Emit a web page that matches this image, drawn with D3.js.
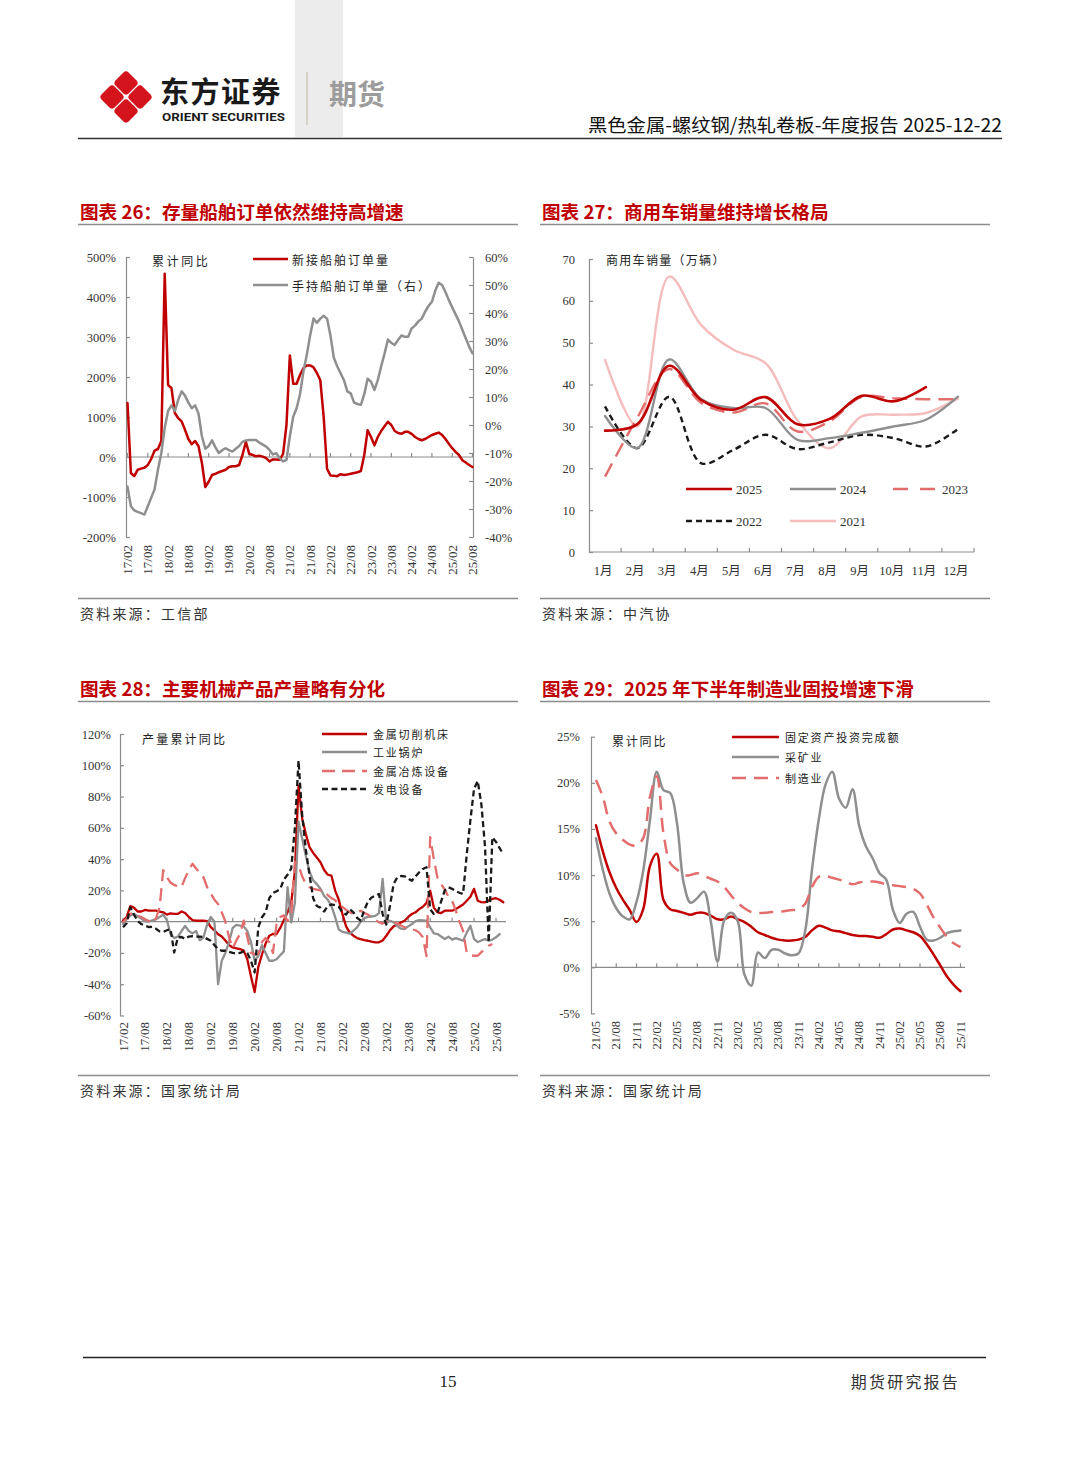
<!DOCTYPE html>
<html><head><meta charset="utf-8">
<script src="https://cdn.jsdelivr.net/npm/d3@7"></script>
<style>body{margin:0;background:#fff;}svg{display:block;}</style>
</head><body>
<svg id="page" width="1080" height="1466"></svg>
<script>
// ===== Chart 26 data: 新接 / 手持 船舶订单量 (monthly from 17/02) =====
const shipTicks = ['17/02','17/08','18/02','18/08','19/02','19/08','20/02','20/08','21/02','21/08','22/02','22/08','23/02','23/08','24/02','24/08','25/02','25/08'];
const shipLeftTicks = [-200,-100,0,100,200,300,400,500];
const shipRightTicks = [-40,-30,-20,-10,0,10,20,30,40,50,60];
const shipNewOrders = [135,-40,-48,-32,-29,-27,-20,-5,16,20,
 40,458,180,172,110,97,89,68,45,32,
 40,27,-15,-75,-62,-45,-42,-38,-35,-32,
 -25,-23,-23,-20,5,38,8,5,2,3,
 1,-3,-11,-6,-6,-7,8,80,254,183,
 183,205,222,229,229,224,210,192,100,-30,
 -46,-47,-48,-43,-45,-44,-42,-40,-38,-35,
 5,67,50,29,50,65,77,88,80,65,
 60,58,63,63,58,50,45,42,45,50,
 55,58,61,55,45,33,22,13,5,-8,
 -14,-20,-25];
const shipHandOrders = [-22,-29,-30.5,-31,-31.5,-32,-29,-26,-23,-16,
 -10,-1,5,7,5,9,12,10.5,8,6,
 7,4,-4,-8.5,-7.5,-5.5,-8,-10,-9,-8.3,
 -9,-9.5,-8.5,-7.5,-6,-5.5,-5.4,-5.4,-5.4,-6.3,
 -7,-7.7,-8.9,-10.5,-10.1,-11.9,-13,-12.5,-4,3,
 6,11,19,25,32,38,36.5,38,39,38,
 32,24,21,18.5,16,12,11.3,8,7.5,7.2,
 11,16.5,15.5,12.5,16,21,25.5,30.5,29.3,28.6,
 30.4,32,31.5,31.5,34.5,35.5,37,38,40.5,42.5,
 44,48,50.8,50,47.5,44.6,42,39.5,37,34,
 31,28,25.6];

// ===== Chart 27 data: 商用车销量（万辆） =====
const cvMonths = ['1月','2月','3月','4月','5月','6月','7月','8月','9月','10月','11月','12月'];
const cvTicks = [0,10,20,30,40,50,60,70];
const cv2025 = [29.0,30.5,44.5,36.3,34.0,37.0,30.5,31.8,37.3,36.0,39.4];
const cv2024 = [32.5,24.8,46.0,36.5,34.4,34.4,26.8,27.2,28.5,30.0,31.6,37.1];
const cv2023 = [18.0,32.0,43.7,35.6,33.3,35.5,28.8,31.2,37.1,36.7,36.5,36.5];
const cv2022 = [34.8,24.8,37.1,21.2,24.4,28.0,24.6,26.2,28.0,27.2,25.2,29.4];
const cv2021 = [45.9,30.0,65.8,54.2,48.3,45.1,31.4,24.8,32.4,32.8,33.2,36.7];

// ===== Chart 28 data: 产量累计同比 (monthly from 17/02) =====
const machTicks = shipTicks;
const machYTicks = [-60,-40,-20,0,20,40,60,80,100,120];
const machTool = [0.6,3,10,9,6.5,6.5,7.5,7,7,7,
 6.5,6,4.5,5.3,5,5,6.5,5.5,3,1,
 0.6,0.6,0.6,0.3,-3.5,-5.5,-8,-9.5,-12,-15,
 -16.5,-17,-17.5,-18.5,-24,-35,-45,-29,-21,-14,
 -9,-7.9,-7.9,-4,1,6,12,32,87,66,
 56,47.6,44,41,38,33,30,29.4,20,14,
 5,-3,-7,-9,-10.5,-11.1,-11.8,-12.2,-12.8,-13.2,
 -13.2,-12,-9,-5.5,-3,-1.8,-0.5,0.6,3,4.9,
 6,8,9.5,12,19.8,9,6,5.5,7,7,
 7,8,9.5,11,13.4,16,21,13.4,12.5,12.4,
 13.5,14.5,15,14,12.4];
const machBoiler = [-1.5,1.5,4,5,3.5,2,0.2,0,0.8,1.5,
 3,4.5,1,-7.9,-10.5,-9.5,-6,-2.8,-6,-7.5,
 -6,-12,-10,-2,3,0,-40,-25,-20,-13,
 -4,-2,-2.5,-3,-6,-13,-25,-22,-15,-20,
 -25,-25,-24,-21.5,-19,22,-0.5,12,64,53,
 42,32,26.5,24,21,16.5,14,10,3,-5,
 -6.5,-7,-7.6,-5.8,-3.6,0,2.3,3,3.3,3.7,
 5.5,27.3,-1,0.6,-0.4,-2.8,-4.5,-4.7,-3,-1.5,
 0.4,1,0.8,0.6,-3.6,-7.5,-7.9,-9.5,-11.1,-9.6,
 -11.5,-10.5,-11.3,-12.2,-7,-2.6,-11.1,-13,-12,-11.2,
 -12.2,-11.5,-10,-7.9];
const machSmelt = [-0.4,2,5,5.5,4,3,1.5,0.6,-1,2,
 9,33,28.4,25,23.5,22.5,22,28,33,37,
 34,31,28.4,22,18,14,11.3,6,0,-10,
 -17,-12,-7.9,0.6,-10,-20,-20.7,-20.7,-13,-10.5,
 -13,-20,-1.5,3,4,0.6,4,38,36,29,
 24,22,21,20.5,20,19.8,17,15,13.8,11,
 9.5,7.5,6,4.9,6,7,5.5,4.5,3,1.2,
 -0.4,-1.2,0,0.6,-0.3,-1.2,-2.5,-3.6,-4.2,-4.8,
 -5.5,-7,-10,-22,54,40,28,24,20.5,16,
 13.4,7,0,-5.8,-20,-21.5,-21.8,-21.8,-19.5,-17.5,
 -15.4,-14.3];
const machPower = [-3.6,-1,9.2,4.5,0.5,-1.5,-2.6,-3.4,-3.3,-4.5,
 -6.2,-6.6,-5.5,-4.7,-19.7,-10,-9.8,-11,-9.5,-9.3,
 -9.6,-9.6,-9.8,-11,-12.2,-15,-17.5,-18.6,-18.6,-19.3,
 -20,-20.3,-20,-19,-20,-25,-32.5,-3.6,2.8,6,
 15,18.3,19.5,20.9,27,30,34,60,103,68,
 46,30,15,10,9,6.5,10,11,10.5,9.5,
 6,4.5,8,6,2.5,0.6,7.5,13,15.5,16.6,
 17.7,4.9,-1.9,10,24,28.4,29.2,29,27.5,26.2,
 29,31.6,33.7,34.8,8,4.9,5.5,13,20,22,
 21,19.5,18.5,17.7,43,65,85,90,75,48,
 -13.2,54,51,47,43];

// ===== Chart 29 data: 累计同比 (monthly from 21/05) =====
const invTicks = ['21/05','21/08','21/11','22/02','22/05','22/08','22/11','23/02','23/05','23/08','23/11','24/02','24/05','24/08','24/11','25/02','25/05','25/08','25/11'];
const invYTicks = [-5,0,5,10,15,20,25];
const invFixed = [15.4,12.6,10.3,8.6,7.3,6.2,4.9,6.3,11,12.3,
 7.3,6.3,6.1,5.9,5.7,5.9,5.9,5.6,5.2,5.2,
 5.5,5.2,4.9,4.4,3.8,3.5,3.2,3.0,2.9,2.9,
 3.0,3.3,4.0,4.5,4.3,4.0,3.9,3.7,3.5,3.4,
 3.4,3.3,3.2,3.6,4.1,4.2,4.0,3.8,3.4,2.5,
 1.4,0.2,-1.0,-1.9,-2.6];
const invMining = [14,10.6,8,6.4,5.5,5.2,7.1,10.5,16,21.2,
 19.2,18.9,15.6,9.1,7.0,7.5,8.2,5.0,0.6,5.1,
 5.9,5.0,-0.8,-2.0,1.6,1.0,1.9,1.9,1.5,1.3,
 1.5,4,10.6,16,19.8,21.2,18.3,17.3,19.3,15.3,
 13.1,11.8,10.2,9.5,6.2,4.8,5.8,6.0,4.4,3.0,
 2.9,3.2,3.7,3.9,4.0];
const invManuf = [20.3,18.5,15.8,14.5,13.8,13.3,13.2,14,18.5,20.7,
 14.5,11.3,10.6,10,10,10.2,9.9,9.6,9.3,8.7,
 7.8,7.0,6.4,6.0,5.9,5.9,6.0,6.0,6.1,6.2,
 6.3,6.9,8.7,9.8,9.9,9.7,9.5,9.3,9.0,9.2,
 9.3,9.3,9.2,9.0,8.9,8.8,8.7,8.5,8.0,6.8,
 5.4,4.3,3.3,2.6,2.2];

// ================= drawing =================
const svg = d3.select('#page');
const SERIF = "'Liberation Serif','DejaVu Serif','Noto Sans CJK SC',serif";
const CJK = "'Noto Sans CJK SC','Noto Sans CJK JP',sans-serif";
const RED='#c00000', GRAY='#8f8f8f', PINK='#e36d6d', LPINK='#f5bcbc', BLACK='#1a1a1a', AX='#8c8c8c';

function txt(g,x,y,s,o={}){
  return g.append('text').attr('x',x).attr('y',y).text(s)
    .attr('font-family',o.ff||CJK).attr('font-size',o.fs||12).attr('fill',o.fill||'#222')
    .attr('font-weight',o.fw||400).attr('text-anchor',o.anchor||'start')
    .attr('letter-spacing',o.ls||0).attr('dominant-baseline',o.db||'central');
}
function hline(g,x1,x2,y,c,w){g.append('line').attr('x1',x1).attr('x2',x2).attr('y1',y).attr('y2',y).attr('stroke',c).attr('stroke-width',w);}
function series(g,data,xf,yf,o){
  const ln=d3.line().defined(d=>d!=null).x((d,i)=>xf(i)).y(d=>yf(d)).curve(o.curve||d3.curveLinear);
  g.append('path').attr('d',ln(data)).attr('fill','none').attr('stroke',o.c).attr('stroke-width',o.w||2.2)
   .attr('stroke-dasharray',o.dash||null).attr('stroke-linejoin','round').attr('stroke-linecap',o.dash?'butt':'round');
}
function styleAxis(sel,fs){
  sel.select('.domain').attr('stroke',AX).attr('stroke-width',1.2);
  sel.selectAll('.tick line').attr('stroke',AX).attr('stroke-width',1.2);
  sel.selectAll('.tick text').attr('font-family',SERIF).attr('font-size',fs).attr('fill','#333');
}
function legendLine(g,x1,x2,y,c,dash,w){g.append('line').attr('x1',x1).attr('x2',x2).attr('y1',y).attr('y2',y).attr('stroke',c).attr('stroke-width',w||2.5).attr('stroke-dasharray',dash||null);}

// ---------- header ----------
svg.append('rect').attr('x',295).attr('y',0).attr('width',48).attr('height',137).attr('fill','#ececec');
const logo = svg.append('g').attr('transform','translate(126,97)');
[[0,-14],[-14,0],[14,0],[0,14]].forEach(([dx,dy])=>{
  logo.append('rect').attr('x',-9.3).attr('y',-9.3).attr('width',18.6).attr('height',18.6).attr('rx',4)
    .attr('fill','#d4141c').attr('transform',`translate(${dx},${dy}) rotate(45)`);
});
txt(svg,160,90,'东方证券',{fs:29,fw:700,fill:'#1a1a1a',ls:1.5});
txt(svg,162,117,'ORIENT SECURITIES',{ff:"Roboto,'Liberation Sans',sans-serif",fs:11,fw:700,fill:'#1a1a1a'}).attr('textLength',123).attr('lengthAdjust','spacingAndGlyphs');
svg.append('line').attr('x1',307).attr('x2',307).attr('y1',72).attr('y2',125).attr('stroke','#c9c0b0').attr('stroke-width',1.2);
txt(svg,329,93,'期货',{fs:28,fw:700,fill:'#9c9c9c'});
txt(svg,1002,124,'黑色金属-螺纹钢/热轧卷板-年度报告 2025-12-22',{fs:18.5,fill:'#111',anchor:'end'}).attr('textLength',414).attr('lengthAdjust','spacingAndGlyphs');
hline(svg,78,1002,138.5,'#333',1.5);

// ---------- frames: titles / sources ----------
function frame(x1,x2,titleY,title,srcY,src){
  txt(svg,x1+2,titleY,title,{fs:18.6,fw:700,fill:RED});
  hline(svg,x1,x2,titleY+14.5,'#8c8c8c',1.3);
  hline(svg,x1,x2,srcY-14.5,'#8c8c8c',1.3);
  txt(svg,x1+2,srcY,src,{fs:14,fill:'#333',ls:2.2});
}
frame(78,518,210,'图表 26：存量船舶订单依然维持高增速',613,'资料来源：工信部');
frame(540,990,210,'图表 27：商用车销量维持增长格局',613,'资料来源：中汽协');
frame(78,518,687,'图表 28：主要机械产品产量略有分化',1090,'资料来源：国家统计局');
frame(540,990,687,'图表 29：2025 年下半年制造业固投增速下滑',1090,'资料来源：国家统计局');

// ---------- Chart 26 ----------
(function(){
  const g=svg.append('g');
  const x=d3.scaleLinear().domain([0,102]).range([127.5,472.5]);
  const yL=d3.scaleLinear().domain([-200,500]).range([537,257]);
  const yR=d3.scaleLinear().domain([-40,60]).range([537,257]);
  const aL=g.append('g').attr('transform','translate(126,0)')
    .call(d3.axisLeft(yL).tickValues(shipLeftTicks).tickSize(-4).tickSizeOuter(0).tickPadding(10).tickFormat(d=>d+'%'));
  styleAxis(aL,12.5);
  const aR=g.append('g').attr('transform','translate(473,0)')
    .call(d3.axisRight(yR).tickValues(shipRightTicks).tickSize(-4).tickSizeOuter(0).tickPadding(12).tickFormat(d=>d+'%'));
  styleAxis(aR,12.5);
  const z=yL(0);
  hline(g,126,473,z,AX,1.2);
  shipTicks.forEach(l=>{
    const [yy,mm]=l.split('/').map(Number); const m=(yy-17)*12+(mm-2);
    g.append('line').attr('x1',x(m)).attr('x2',x(m)).attr('y1',z).attr('y2',z-4).attr('stroke',AX).attr('stroke-width',1.2);
    g.append('text').attr('transform',`translate(${x(m)},545) rotate(-90)`).attr('text-anchor','end').attr('dominant-baseline','central')
      .attr('font-family',SERIF).attr('font-size',13).attr('fill','#333').text(l);
  });
  series(g,shipNewOrders,x,yL,{c:RED,w:2.5});
  series(g,shipHandOrders,x,yR,{c:GRAY,w:2.5});
  txt(g,152,260,'累计同比',{fs:12,ls:2.6,fill:'#222'});
  legendLine(g,253,288,259,RED); txt(g,292,259,'新接船舶订单量',{fs:12,ls:2,fill:'#222'});
  legendLine(g,253,288,285,GRAY); txt(g,292,285,'手持船舶订单量（右）',{fs:12,ls:2,fill:'#222'});
})();

// ---------- Chart 27 ----------
(function(){
  const g=svg.append('g');
  const x=d3.scaleBand().domain(cvMonths).range([589,974]);
  const y=d3.scaleLinear().domain([0,70]).range([552,259]);
  const aY=g.append('g').attr('transform','translate(589,0)')
    .call(d3.axisLeft(y).tickValues(cvTicks).tickSize(-4).tickSizeOuter(0).tickPadding(14));
  styleAxis(aY,12.5);
  hline(g,589,974,552,AX,1.2);
  cvMonths.forEach((mo,i)=>{
    const xe=x(mo)+x.bandwidth();
    g.append('line').attr('x1',xe).attr('x2',xe).attr('y1',552).attr('y2',548).attr('stroke',AX).attr('stroke-width',1.2);
    txt(g,x(mo)+x.bandwidth()/2-2,571,mo,{ff:SERIF,fs:12.5,fill:'#333',anchor:'middle'});
  });
  const xf=i=>x(cvMonths[i])+x.bandwidth()/2;
  const cr=d3.curveCatmullRom.alpha(0.5);
  series(g,cv2021,xf,y,{c:LPINK,w:2.4,curve:cr});
  series(g,cv2022,xf,y,{c:BLACK,w:2.4,dash:'6,4',curve:cr});
  series(g,cv2023,xf,y,{c:PINK,w:2.4,dash:'15,8',curve:cr});
  series(g,cv2024,xf,y,{c:GRAY,w:2.4,curve:cr});
  series(g,cv2025,xf,y,{c:RED,w:2.6,curve:cr});
  txt(g,606,259,'商用车销量（万辆）',{fs:12,ls:1.3,fill:'#222'});
  const L=[[686,732,489,RED,null,'2025'],[790,836,489,GRAY,null,'2024'],[893,938,489,PINK,'15,12','2023'],
           [686,732,521,BLACK,'6,4','2022'],[790,836,521,LPINK,null,'2021']];
  L.forEach(([a,b,yy,c,d,t])=>{legendLine(g,a,b,yy,c,d,2.5); txt(g,b+4,yy,t,{ff:SERIF,fs:13,fill:'#333'});});
})();

// ---------- Chart 28 ----------
(function(){
  const g=svg.append('g');
  const x=d3.scaleLinear().domain([0,102]).range([123,496]);
  const y=d3.scaleLinear().domain([-60,120]).range([1015.5,734]);
  const aY=g.append('g').attr('transform','translate(120,0)')
    .call(d3.axisLeft(y).tickValues(machYTicks).tickSize(-4).tickSizeOuter(0).tickPadding(9).tickFormat(d=>d+'%'));
  styleAxis(aY,12.5);
  const z=y(0);
  hline(g,120,506,z,AX,1.2);
  machTicks.forEach(l=>{
    const [yy,mm]=l.split('/').map(Number); const m=(yy-17)*12+(mm-2);
    g.append('line').attr('x1',x(m)).attr('x2',x(m)).attr('y1',z).attr('y2',z-4).attr('stroke',AX).attr('stroke-width',1.2);
    g.append('text').attr('transform',`translate(${x(m)},1022) rotate(-90)`).attr('text-anchor','end').attr('dominant-baseline','central')
      .attr('font-family',SERIF).attr('font-size',13).attr('fill','#333').text(l);
  });
  series(g,machTool,x,y,{c:RED,w:2.3});
  series(g,machBoiler,x,y,{c:GRAY,w:2.3});
  series(g,machSmelt,x,y,{c:PINK,w:2.3,dash:'13,7'});
  series(g,machPower,x,y,{c:BLACK,w:2.3,dash:'6,3.5'});
  txt(g,142,738,'产量累计同比',{fs:12,ls:2.2,fill:'#222'});
  const L=[[322,367,734,RED,null,'金属切削机床'],[322,367,752,GRAY,null,'工业锅炉'],
           [322,367,771,PINK,'13,7','金属冶炼设备'],[322,367,789,BLACK,'6,3.5','发电设备']];
  L.forEach(([a,b,yy,c,d,t])=>{legendLine(g,a,b,yy,c,d,2.4); txt(g,373,yy,t,{fs:11,ls:1.8,fill:'#222'});});
})();

// ---------- Chart 29 ----------
(function(){
  const g=svg.append('g');
  const x=d3.scaleLinear().domain([0,54]).range([596,960.5]);
  const y=d3.scaleLinear().domain([-5,25]).range([1013.4,736.7]);
  const aY=g.append('g').attr('transform','translate(591,0)')
    .call(d3.axisLeft(y).tickValues(invYTicks).tickSize(-4).tickSizeOuter(0).tickPadding(11).tickFormat(d=>d+'%'));
  styleAxis(aY,12.5);
  const z=y(0);
  hline(g,591,965,z,AX,1.2);
  invTicks.forEach(l=>{
    const [yy,mm]=l.split('/').map(Number); const m=(yy-21)*12+(mm-5);
    g.append('line').attr('x1',x(m)).attr('x2',x(m)).attr('y1',z).attr('y2',z-4).attr('stroke',AX).attr('stroke-width',1.2);
    g.append('text').attr('transform',`translate(${x(m)},1021) rotate(-90)`).attr('text-anchor','end').attr('dominant-baseline','central')
      .attr('font-family',SERIF).attr('font-size',12.5).attr('fill','#333').text(l);
  });
  const cr=d3.curveCatmullRom.alpha(0.5);
  series(g,invFixed,x,y,{c:RED,w:2.5,curve:cr});
  series(g,invMining,x,y,{c:GRAY,w:2.5,curve:cr});
  series(g,invManuf,x,y,{c:PINK,w:2.5,dash:'14,8',curve:cr});
  txt(g,612,740,'累计同比',{fs:12,ls:1.8,fill:'#222'});
  const L=[[732,779,737,RED,null,'固定资产投资完成额'],[732,779,757,GRAY,null,'采矿业'],[732,779,778,PINK,'14,8','制造业']];
  L.forEach(([a,b,yy,c,d,t])=>{legendLine(g,a,b,yy,c,d,2.5); txt(g,785,yy,t,{fs:11,ls:1.8,fill:'#222'});});
})();

// ---------- footer ----------
hline(svg,83,986,1357.5,'#222',1.5);
txt(svg,448,1381,'15',{ff:SERIF,fs:17,fill:'#222',anchor:'middle'});
txt(svg,960,1381,'期货研究报告',{fs:16,fill:'#333',anchor:'end',ls:2.2});
</script>
</body></html>
